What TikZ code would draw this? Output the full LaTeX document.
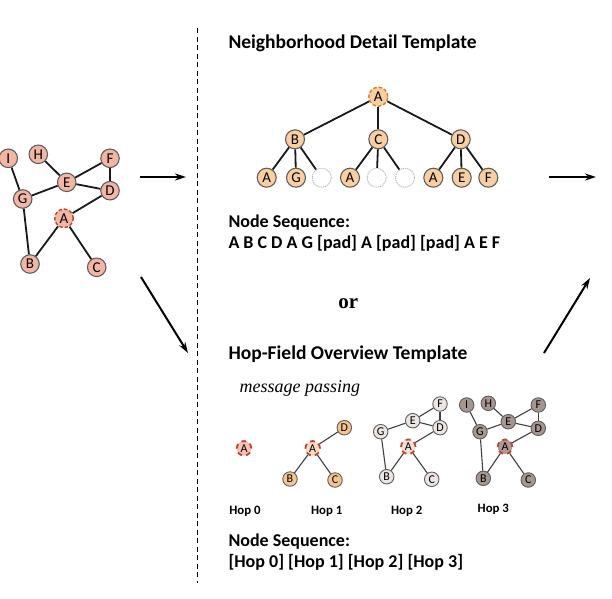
\documentclass[tikz,border=0pt]{standalone}
\usepackage{fontspec}
\setmainfont{Carlito}
\newfontfamily\timesf{Liberation Serif}
\usetikzlibrary{arrows.meta}
\definecolor{salmon}{HTML}{F4B6A4}
\definecolor{peach}{HTML}{F9CF9F}
\definecolor{ngray}{HTML}{5E5E5E}
\definecolor{redb}{HTML}{C0452E}
\definecolor{orangeb}{HTML}{E07B2A}
\definecolor{hopone}{HTML}{F5C48E}
\definecolor{hopzeroA}{HTML}{F4C2B4}
\definecolor{hoponeA}{HTML}{FBDAC2}
\definecolor{hoptwo}{HTML}{ECE5E1}
\definecolor{hoptwoA}{HTML}{F2DFD6}
\definecolor{hopthree}{HTML}{A5968F}
\definecolor{hopthreeA}{HTML}{AD9A94}
\tikzset{
  gnode/.style={circle, draw=ngray, line width=1.1pt, minimum size=18.5pt, inner sep=0pt, font=\fontsize{15}{15}\selectfont},
  lnode/.style={gnode, fill=salmon},
  lcenter/.style={gnode, fill=salmon, draw=redb, dash pattern=on 3.5pt off 2pt, line width=1.4pt},
  tnode/.style={gnode, fill=peach, minimum size=19pt},
  troot/.style={tnode, draw=orangeb, dash pattern=on 3.5pt off 2pt, line width=1.4pt},
  padnode/.style={circle, draw=gray!55, dash pattern=on 1.2pt off 0.8pt, line width=0.9pt, fill=white, minimum size=19pt, inner sep=0pt},
  hnode/.style={circle, draw=ngray, line width=0.9pt, minimum size=14.5pt, inner sep=0pt, font=\fontsize{12}{12}\selectfont},
  hcenter/.style={hnode, draw=redb, dash pattern=on 5pt off 4pt, line width=1.8pt},
  edge/.style={line width=1.8pt, black!90},
  tedge/.style={line width=1.8pt, black!90},
  hedge/.style={line width=1.1pt, black!75},
  bigarrow/.style={line width=2pt, -{Stealth[length=11pt,width=7pt]}},
  title/.style={anchor=west, font=\fontsize{19.5}{19.5}\selectfont\bfseries, inner sep=0pt},
  seqtext/.style={anchor=west, font=\fontsize{18}{18}\selectfont\bfseries, inner sep=0pt},
  hoplabel/.style={font=\fontsize{12.8}{12.8}\selectfont\bfseries, inner sep=0pt}
}
\begin{document}
\begin{tikzpicture}[x=1pt,y=-1pt]
\useasboundingbox (0,0) rectangle (612,598);

% dashed separator
\coordinate (sepTop) at (197.5,28);
\coordinate (sepBot) at (197.5,583);
\draw[line width=1.8pt, dash pattern=on 5pt off 3.5pt] (sepTop) -- (sepBot);

% left graph
\node[lnode] (LI) at (8.3,158.3) {I};
\node[lnode] (LH) at (38.3,154.3) {H};
\node[lnode] (LF) at (110,158.3) {F};
\node[lnode] (LE) at (66.7,182.3) {E};
\node[lnode] (LD) at (110,190.7) {D};
\node[lnode] (LG) at (22.7,199) {G};
\node[lcenter] (LA) at (64,218.3) {A};
\node[lnode] (LB) at (30,264) {B};
\node[lnode] (LC) at (96.7,267.3) {C};
\draw[edge] (LI) -- (LG);
\draw[edge] (LH) -- (LE);
\draw[edge] (LE) -- (LF);
\draw[edge] (LE) -- (LG);
\draw[edge] (LE) -- (LD);
\draw[edge] (LF) -- (LD);
\draw[edge] (LD) -- (LA);
\draw[edge] (LA) -- (LB);
\draw[edge] (LA) -- (LC);
\draw[edge] (LG) -- (LB);

% arrows
\coordinate (a1s) at (140,177);
\coordinate (a1e) at (186,177);
\draw[bigarrow] (a1s) -- (a1e);
\coordinate (a2s) at (141,277);
\coordinate (a2e) at (188,353);
\draw[bigarrow] (a2s) -- (a2e);
\coordinate (a3s) at (549,177);
\coordinate (a3e) at (596,177);
\draw[bigarrow] (a3s) -- (a3e);
\coordinate (a4s) at (544,353);
\coordinate (a4e) at (590,278);
\draw[bigarrow] (a4s) -- (a4e);

% Neighborhood template
\node[title] (t1) at (228.3,43.5) {Neighborhood Detail Template};
\node[troot] (TA) at (378.3,96.7) {A};
\node[tnode] (TB) at (295,139.3) {B};
\node[tnode] (TC) at (378.3,139.3) {C};
\node[tnode] (TD) at (460.7,139.3) {D};
\node[tnode] (T1) at (266.7,177.7) {A};
\node[tnode] (T2) at (296,177.7) {G};
\node[padnode] (T3) at (321.7,177.7) {};
\node[tnode] (T4) at (350,177.7) {A};
\node[padnode] (T5) at (376.7,177.7) {};
\node[padnode] (T6) at (405,177.7) {};
\node[tnode] (T7) at (433.3,177.7) {A};
\node[tnode] (T8) at (461.7,177.7) {E};
\node[tnode] (T9) at (488.3,177.7) {F};
\draw[tedge] (TA) -- (TB);
\draw[tedge] (TA) -- (TC);
\draw[tedge] (TA) -- (TD);
\draw[tedge] (TB) -- (T1);
\draw[tedge] (TB) -- (T2);
\draw[tedge] (TB) -- (T3);
\draw[tedge] (TC) -- (T4);
\draw[tedge] (TC) -- (T5);
\draw[tedge] (TC) -- (T6);
\draw[tedge] (TD) -- (T7);
\draw[tedge] (TD) -- (T8);
\draw[tedge] (TD) -- (T9);

\node[seqtext] (s1) at (228.3,222.7) {Node Sequence:};
\node[seqtext] (s2) at (228.3,243.3) {A B C D A G [pad] A [pad] [pad] A E F};

\node[font=\timesf\fontsize{21}{21}\selectfont\bfseries, inner sep=0pt] (or) at (348.3,304) {or};

\node[title] (t2) at (228.3,354) {Hop-Field Overview Template};
\node[anchor=west, inner sep=0pt, font=\timesf\itshape\fontsize{18}{18}\selectfont] (mp) at (239.5,388.5) {message passing};

% Hop 0
\node[hcenter, fill=hopzeroA] (H0A) at (244,448.3) {A};

% Hop 1
\node[hcenter, fill=hoponeA] (H1A) at (312.7,448.3) {A};
\node[hnode, fill=hopone] (H1D) at (344.3,427.7) {D};
\node[hnode, fill=hopone] (H1B) at (290,479) {B};
\node[hnode, fill=hopone] (H1C) at (335,480) {C};
\draw[hedge] (H1A) -- (H1D);
\draw[hedge] (H1A) -- (H1B);
\draw[hedge] (H1A) -- (H1C);

% Hop 2
\node[hnode, fill=hoptwo] (H2F) at (440,404) {F};
\node[hnode, fill=hoptwo] (H2E) at (412.7,420.7) {E};
\node[hnode, fill=hoptwo] (H2D) at (440,427.7) {D};
\node[hnode, fill=hoptwo] (H2G) at (380.7,431.7) {G};
\node[hcenter, fill=hoptwoA] (H2A) at (408.3,446.7) {A};
\node[hnode, fill=hoptwo] (H2B) at (386.7,476.7) {B};
\node[hnode, fill=hoptwo] (H2C) at (431.7,479.3) {C};
\draw[hedge] (H2E) -- (H2F);
\draw[hedge] (H2E) -- (H2D);
\draw[hedge] (H2F) -- (H2D);
\draw[hedge] (H2E) -- (H2G);
\draw[hedge] (H2D) -- (H2A);
\draw[hedge] (H2A) -- (H2B);
\draw[hedge] (H2A) -- (H2C);
\draw[hedge] (H2G) -- (H2B);

% Hop 3
\node[hnode, fill=hopthree] (H3I) at (466.7,405) {I};
\node[hnode, fill=hopthree] (H3H) at (488.3,403.3) {H};
\node[hnode, fill=hopthree] (H3F) at (538.3,405) {F};
\node[hnode, fill=hopthree] (H3E) at (508.3,421.7) {E};
\node[hnode, fill=hopthree] (H3D) at (538.3,428.3) {D};
\node[hnode, fill=hopthree] (H3G) at (480,431.7) {G};
\node[hcenter, fill=hopthreeA] (H3A) at (505,446.7) {A};
\node[hnode, fill=hopthree] (H3B) at (483.3,478.3) {B};
\node[hnode, fill=hopthree] (H3C) at (528.3,480) {C};
\draw[hedge] (H3I) -- (H3G);
\draw[hedge] (H3H) -- (H3E);
\draw[hedge] (H3E) -- (H3F);
\draw[hedge] (H3E) -- (H3D);
\draw[hedge] (H3F) -- (H3D);
\draw[hedge] (H3E) -- (H3G);
\draw[hedge] (H3D) -- (H3A);
\draw[hedge] (H3A) -- (H3B);
\draw[hedge] (H3A) -- (H3C);
\draw[hedge] (H3G) -- (H3B);

% hop labels
\node[hoplabel] (hl0) at (245,511.5) {Hop 0};
\node[hoplabel] (hl1) at (326.7,511.5) {Hop 1};
\node[hoplabel] (hl2) at (406.7,511.5) {Hop 2};
\node[hoplabel] (hl3) at (493.3,509.5) {Hop 3};

\node[seqtext] (s3) at (228.3,541.7) {Node Sequence:};
\node[seqtext] (s4) at (228.3,562.7) {[Hop 0] [Hop 1] [Hop 2] [Hop 3]};
\end{tikzpicture}
\end{document}
